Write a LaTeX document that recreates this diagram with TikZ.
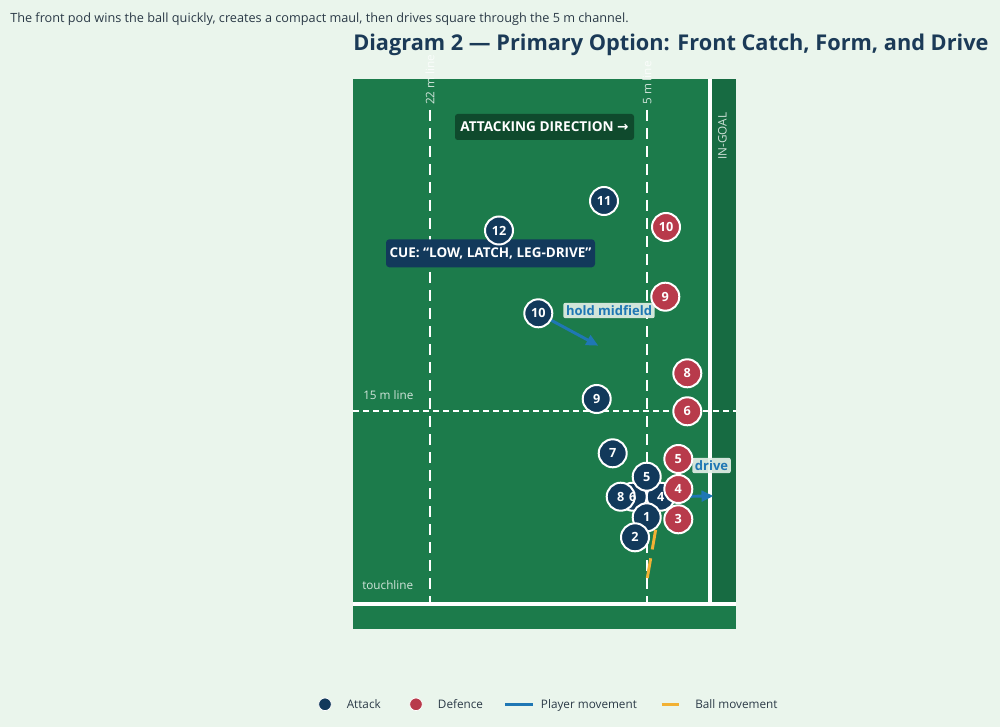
\documentclass[tikz,border=0pt]{standalone}
\usepackage{fontspec}
\setmainfont{Open Sans}
\newfontfamily\symfont{DejaVu Sans}
\usetikzlibrary{arrows.meta}
\definecolor{bgc}{HTML}{EAF5EC}
\definecolor{fieldc}{HTML}{1C7B4B}
\definecolor{ingoalc}{HTML}{176B42}
\definecolor{attc}{HTML}{12395B}
\definecolor{defc}{HTML}{B83A4B}
\definecolor{movec}{HTML}{1F77B4}
\definecolor{ballc}{HTML}{F2B134}
\definecolor{dirbox}{HTML}{0F4A2D}
\definecolor{titlec}{HTML}{1B3A57}
\definecolor{subc}{HTML}{2B3A47}
\definecolor{lblbg}{HTML}{E2EFE7}
\tikzset{
  att/.style={circle, draw=white, line width=1.5pt, fill=attc, minimum size=21pt, inner sep=0pt},
  def/.style={circle, draw=white, line width=1.5pt, fill=defc, minimum size=21pt, inner sep=0pt,
    text=white, font=\fontsize{9.5}{10}\selectfont\bfseries},
  num/.style={inner sep=0pt, text=white, font=\fontsize{9.5}{10}\selectfont\bfseries},
  fieldline/.style={white, line width=1.9pt, dash pattern=on 8.5pt off 5pt},
  fieldlbl/.style={text=white, text opacity=0.8, font=\fontsize{8.8}{9}\selectfont, inner sep=0pt},
  move/.style={movec, line width=2.2pt, -{Triangle[length=9pt,width=8pt]}},
  ball/.style={ballc, line width=2.2pt, dash pattern=on 15pt off 6.75pt},
  tag/.style={fill=lblbg, fill opacity=0.92, text opacity=1, text=movec, rounded corners=1.5pt,
    font=\fontsize{9.75}{11}\selectfont\bfseries, inner sep=2pt},
  legtxt/.style={text=subc, font=\fontsize{8.8}{11}\selectfont, anchor=base west, inner sep=0pt},
}
\begin{document}
\begin{tikzpicture}[x=0.75pt,y=-0.75pt]
\fill[bgc] (0,0) rectangle (1000,727);
\useasboundingbox (0,0) rectangle (1000,727);

% texts
\node[anchor=base west, inner sep=0pt, text=subc, font=\fontsize{9.52}{11}\selectfont] (sub) at (10,22.5)
  {The front pod wins the ball quickly, creates a compact maul, then drives square through the 5 m channel.};
\node[anchor=base west, inner sep=0pt, text=titlec, font=\fontsize{16.3}{18}\selectfont\bfseries] (title) at (353,51)
  {Diagram 2 — Primary Option: Front Catch, Form, and Drive};

% field
\fill[fieldc] (353,79) rectangle (736,629);
\fill[ingoalc] (712,79) rectangle (736,602);
\draw[white, line width=3pt] (353,604) -- (736,604);
\draw[white, line width=3pt] (710,79) -- (710,604);

% lines
\draw[fieldline] (430,110) -- (430,604);
\draw[fieldline] (647,110) -- (647,604);
\draw[white, line width=1.5pt, dash pattern=on 4.5pt off 3pt] (353,411) -- (736,411);

\node[fieldlbl, rotate=90, anchor=west] (l22) at (430,105) {22 m line};
\node[fieldlbl, rotate=90, anchor=west] (l5) at (647,105) {5 m line};
\node[fieldlbl, rotate=90, anchor=west] (lig) at (722.5,160) {IN-GOAL};
\node[fieldlbl, anchor=west] (l15) at (363,395.5) {15 m line};
\node[fieldlbl, anchor=west] (ltl) at (362,585) {touchline};

% boxes
\node[fill=dirbox, rounded corners=2pt, minimum width=134.25pt, minimum height=19.5pt, inner sep=0pt,
  text=white, font=\fontsize{10.2}{11}\selectfont\bfseries] (dir) at (544.5,127) {ATTACKING DIRECTION {\symfont\bfseries →}};
\node[fill=attc, rounded corners=2.5pt, minimum width=156.75pt, minimum height=21pt, inner sep=0pt,
  text=white, font=\fontsize{10.1}{12}\selectfont\bfseries] (cue) at (490.5,253.3) {CUE: “LOW, LATCH, LEG-DRIVE”};

% movement anchors
\coordinate (ballstart) at (647.3,578);
\coordinate (ballend) at (657,522);
\coordinate (holdend) at (598.3,345.7);
\coordinate (driveend) at (713.5,496);
\coordinate (a10c) at (538.3,313.3);
\coordinate (a4c) at (660.7,496.7);

\draw[move] (a10c) -- (holdend);
\draw[move] (a4c) -- (driveend);
\draw[ball] (ballstart) -- (ballend);

% tags
\node[tag] (hold) at (609,310.5) {hold midfield};
\node[tag] (drive) at (711.5,465.5) {drive};

% attack markers
\node[att] (a11) at (604,201) {};
\node[att] (a12) at (499,230.5) {};
\node[att] (a10) at (538.3,313.3) {};
\node[att] (a9) at (596.7,399) {};
\node[att] (a7) at (612.7,453.3) {};
\node[att] (a4) at (660.7,496.7) {};
\node[att] (a6) at (632.7,496.7) {};
\node[att] (a5) at (646.7,476.7) {};
\node[att] (a8) at (620.7,496.7) {};
\node[att] (a1) at (646.7,517.3) {};
\node[att] (a2) at (635,537.3) {};
% attack numbers (drawn on top of all attack markers)
\node[num] (n11) at (a11) {11};
\node[num] (n12) at (a12) {12};
\node[num] (n10) at (a10) {10};
\node[num] (n9) at (a9) {9};
\node[num] (n7) at (a7) {7};
\node[num] (n4) at (a4) {4};
\node[num] (n6) at (a6) {6};
\node[num] (n5) at (a5) {5};
\node[num] (n8) at (a8) {8};
\node[num] (n1) at (a1) {1};
\node[num] (n2) at (a2) {2};

% defence
\node[def] (d10) at (666,227) {10};
\node[def] (d9) at (665.3,296.7) {9};
\node[def] (d8) at (687.3,373.3) {8};
\node[def] (d6) at (687.3,411.3) {6};
\node[def] (d5) at (678.3,459) {5};
\node[def] (d4) at (678.3,489) {4};
\node[def] (d3) at (678.3,519.3) {3};

% legend
\node[circle, fill=attc, draw=white, line width=0.6pt, minimum size=9.5pt, inner sep=0pt] (lga) at (325,704.3) {};
\node[legtxt] (lgat) at (346.5,708.3) {Attack};
\node[circle, fill=defc, draw=white, line width=0.6pt, minimum size=9.5pt, inner sep=0pt] (lgd) at (416,704.3) {};
\node[legtxt] (lgdt) at (437.7,708.3) {Defence};
\coordinate (lgm1) at (505,704.3);
\coordinate (lgm2) at (532.7,704.3);
\draw[movec, line width=2.4pt] (lgm1) -- (lgm2);
\node[legtxt] (lgmt) at (540.7,708.3) {Player movement};
\coordinate (lgb1) at (661.7,704.3);
\coordinate (lgb2) at (679.3,704.3);
\draw[ballc, line width=2.4pt] (lgb1) -- (lgb2);
\node[legtxt] (lgbt) at (695,708.3) {Ball movement};
\end{tikzpicture}
\end{document}
